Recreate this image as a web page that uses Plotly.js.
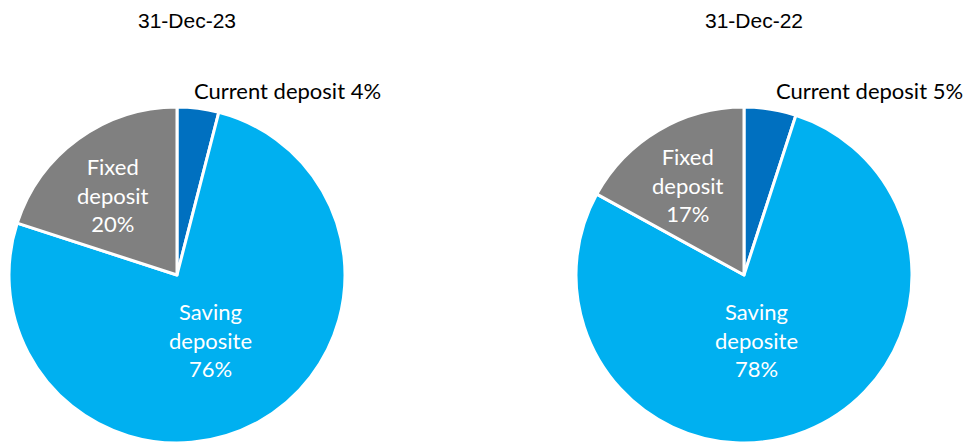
<!DOCTYPE html>
<html>
<head>
<meta charset="utf-8">
<script src="https://cdn.plot.ly/plotly-3.0.1.min.js"></script>
<style>html,body{margin:0;padding:0;background:#fff;}#chart{width:968px;height:445px;}</style>
</head>
<body>
<div id="chart"></div>
<script>
// Data
const categories = ["Current deposit", "Saving deposite", "Fixed deposit"];
const sliceLabels = ["Current deposit", "Saving<br>deposite", "Fixed<br>deposit"];
const values2023 = [4, 76, 20];
const values2022 = [5, 78, 17];
const titles = ["31-Dec-23", "31-Dec-22"];
const colors = ["#0070C0", "#00B0F0", "#808080"];

const W = 968, H = 445;
const FONT = "Lato, sans-serif";
function pie(values, x0, x1, y0, y1) {
  return {
    type: "pie",
    values: values,
    labels: categories,
    sort: false,
    direction: "clockwise",
    rotation: 0,
    domain: {x: [x0 / W, x1 / W], y: [1 - y1 / H, 1 - y0 / H]},
    marker: {colors: colors, line: {color: "#ffffff", width: 3}},
    textinfo: "none",
    hoverinfo: "label+percent",
    showlegend: false
  };
}

const data = [
  pie(values2023, 9, 345, 107, 443),
  pie(values2022, 576, 912, 107, 443)
];

// label placement (pixel centres) for each pie: current, saving, fixed
const labelPos = [
  [[287, 90], [210, 340], [113, 195]],
  [[869, 90], [756, 340], [688, 185]]
];
const labelColors = ["#000000", "#ffffff", "#ffffff"];

function labelText(values, i) {
  const total = values.reduce((a, b) => a + b, 0);
  const pct = Math.round(values[i] / total * 100) + "%";
  return i === 0 ? sliceLabels[i] + " " + pct : sliceLabels[i] + "<br>" + pct;
}

const annotations = [];
[values2023, values2022].forEach((vals, p) => {
  annotations.push({text: titles[p], x: (p === 0 ? 187 : 754) / W, y: 1 - 20 / H, xref: "paper", yref: "paper",
    showarrow: false, xanchor: "center", yanchor: "middle",
    font: {family: "Liberation Sans, Arial, sans-serif", size: 21, color: "#000"}});
  for (let i = 0; i < vals.length; i++) {
    annotations.push({text: labelText(vals, i), x: labelPos[p][i][0] / W, y: 1 - labelPos[p][i][1] / H,
      xref: "paper", yref: "paper", showarrow: false, xanchor: "center", yanchor: "middle", align: "center",
      font: {family: FONT, size: 22, color: labelColors[i]}});
  }
});

const layout = {
  width: W, height: H,
  margin: {l: 0, r: 0, t: 0, b: 0},
  paper_bgcolor: "#ffffff",
  showlegend: false,
  annotations: annotations
};

Plotly.newPlot("chart", data, layout, {displayModeBar: false, staticPlot: true});
</script>
</body>
</html>
